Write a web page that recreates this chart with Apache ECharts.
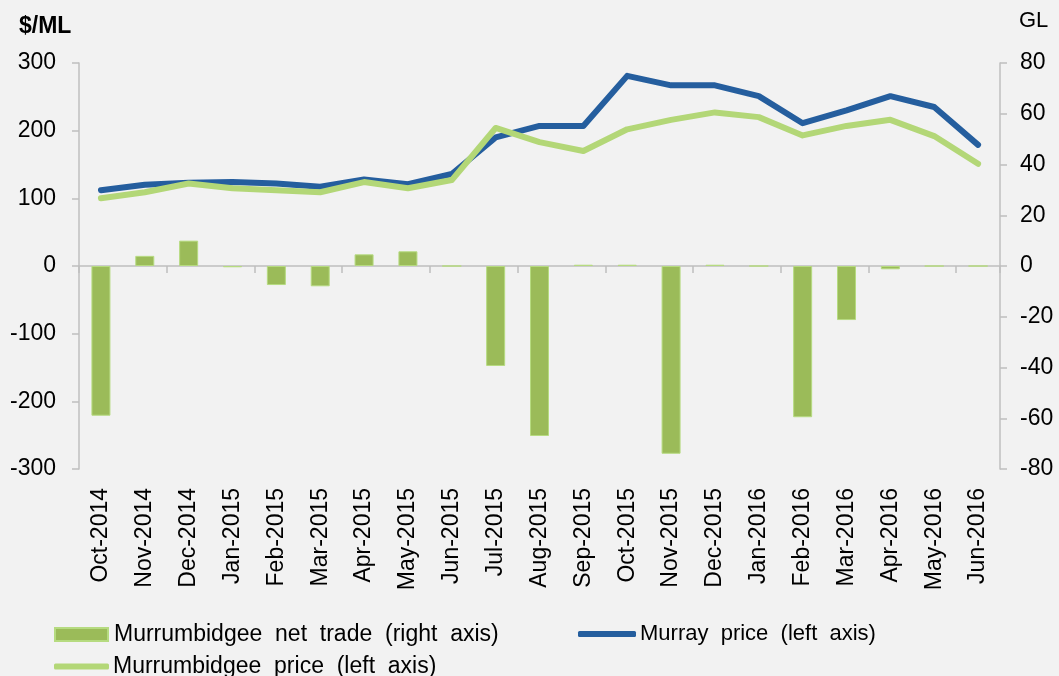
<!DOCTYPE html>
<html><head><meta charset="utf-8">
<script src="https://cdn.jsdelivr.net/npm/echarts@6/dist/echarts.min.js"></script>
<style>html,body{margin:0;padding:0;background:#F2F2F2;}#c{width:1059px;height:676px;}</style>
</head><body><div id="c"></div>
<script>
var categories = ['Oct-2014','Nov-2014','Dec-2014','Jan-2015','Feb-2015','Mar-2015','Apr-2015','May-2015','Jun-2015','Jul-2015','Aug-2015','Sep-2015','Oct-2015','Nov-2015','Dec-2015','Jan-2016','Feb-2016','Mar-2016','Apr-2016','May-2016','Jun-2016'];
var netTrade = [-59, 4, 10, -0.5, -7.5, -8, 4.6, 5.8, 0, -39.4, -67, 0.5, 0.5, -74, 0.5, 0, -59.6, -21.3, -1.3, 0, 0];
var murrayPrice = [112, 120, 123, 124, 122, 117, 128, 121, 136, 190, 207, 207, 281, 267, 267, 251, 211, 230, 251, 235, 179];
var murrumbidgeePrice = [100, 109, 122, 115, 112, 109, 124, 115, 127, 204, 183, 170, 202, 216, 227, 220, 193, 207, 216, 192, 151];
var leftTicks = [-300, 300, 100];
var rightTicks = [-80, 80, 20];

var chart = echarts.init(document.getElementById('c'));
var font = 'Liberation Sans, Arial, sans-serif';
var axisGray = '#BFBFBF';
function spaced(n) { return n.replace(/ /g, '  '); }
chart.setOption({
  backgroundColor: '#F2F2F2',
  animation: false,
  textStyle: {fontFamily: font},
  graphic: [
    {type: 'text', left: 19, top: 15, style: {text: '$/ML', font: 'bold 23px ' + font, fill: '#000'}},
    {type: 'text', left: 1019, top: 10, style: {text: 'GL', font: '22px ' + font, fill: '#000'}}
  ],
  legend: [
    {left: 49, top: 618, itemWidth: 53, itemHeight: 13, itemGap: 0, formatter: spaced,
     data: [{name: 'Murrumbidgee net trade (right axis)', icon: 'rect'}],
     textStyle: {fontSize: 23, fontFamily: font, color: '#000', padding: [0,0,0,1]}},
    {left: 573, top: 618, itemWidth: 58, itemHeight: 6, formatter: spaced,
     data: [{name: 'Murray price (left axis)', icon: 'roundRect'}],
     textStyle: {fontSize: 22, fontFamily: font, color: '#000', padding: [0,0,0,-1]}},
    {left: 49, top: 650, itemWidth: 55, itemHeight: 6, formatter: spaced,
     data: [{name: 'Murrumbidgee price (left axis)', icon: 'roundRect'}],
     textStyle: {fontSize: 23, fontFamily: font, color: '#000', padding: [0,0,0,-1]}}
  ],
  grid: {left: 79, right: 59, top: 63, bottom: 207, containLabel: false},
  xAxis: [
    {type: 'category', data: categories, position: 'bottom',
     axisLine: {onZero: false, show: false}, axisTick: {show: false},
     axisLabel: {rotate: 90, fontSize: 23, color: '#000', margin: 19, fontFamily: font, interval: 0}},
    {type: 'category', data: categories, position: 'bottom',
     axisLine: {onZero: true, lineStyle: {color: axisGray, width: 1.5}},
     axisTick: {show: true, length: 7, inside: false, lineStyle: {color: axisGray, width: 1.5}},
     axisLabel: {show: false}}
  ],
  yAxis: [
    {type: 'value', min: leftTicks[0], max: leftTicks[1], interval: leftTicks[2],
     axisLine: {show: true, lineStyle: {color: axisGray, width: 1.5}},
     axisTick: {show: true, length: 7, lineStyle: {color: axisGray, width: 1.5}},
     splitLine: {show: false},
     axisLabel: {fontSize: 23, color: '#000', margin: 23, fontFamily: font}},
    {type: 'value', min: rightTicks[0], max: rightTicks[1], interval: rightTicks[2], position: 'right',
     axisLine: {show: true, lineStyle: {color: axisGray, width: 1.5}},
     axisTick: {show: true, length: 7, lineStyle: {color: axisGray, width: 1.5}},
     splitLine: {show: false},
     axisLabel: {fontSize: 23, color: '#000', margin: 20, fontFamily: font}}
  ],
  series: [
    {name: 'Murrumbidgee net trade (right axis)', type: 'bar', xAxisIndex: 0, yAxisIndex: 1, data: netTrade,
     barWidth: 19, itemStyle: {color: '#9BBB59', borderColor: '#B6DB80', borderWidth: 1}},
    {name: 'Murray price (left axis)', type: 'line', xAxisIndex: 0, yAxisIndex: 0, data: murrayPrice,
     symbol: 'none', z: 4, lineStyle: {color: '#255E9E', width: 6, cap: 'round', join: 'round'}, itemStyle: {color: '#255E9E'}},
    {name: 'Murrumbidgee price (left axis)', type: 'line', xAxisIndex: 0, yAxisIndex: 0, data: murrumbidgeePrice,
     symbol: 'none', z: 5, lineStyle: {color: '#B3D777', width: 6, cap: 'round', join: 'round'}, itemStyle: {color: '#B3D777'}}
  ]
});
</script></body></html>
